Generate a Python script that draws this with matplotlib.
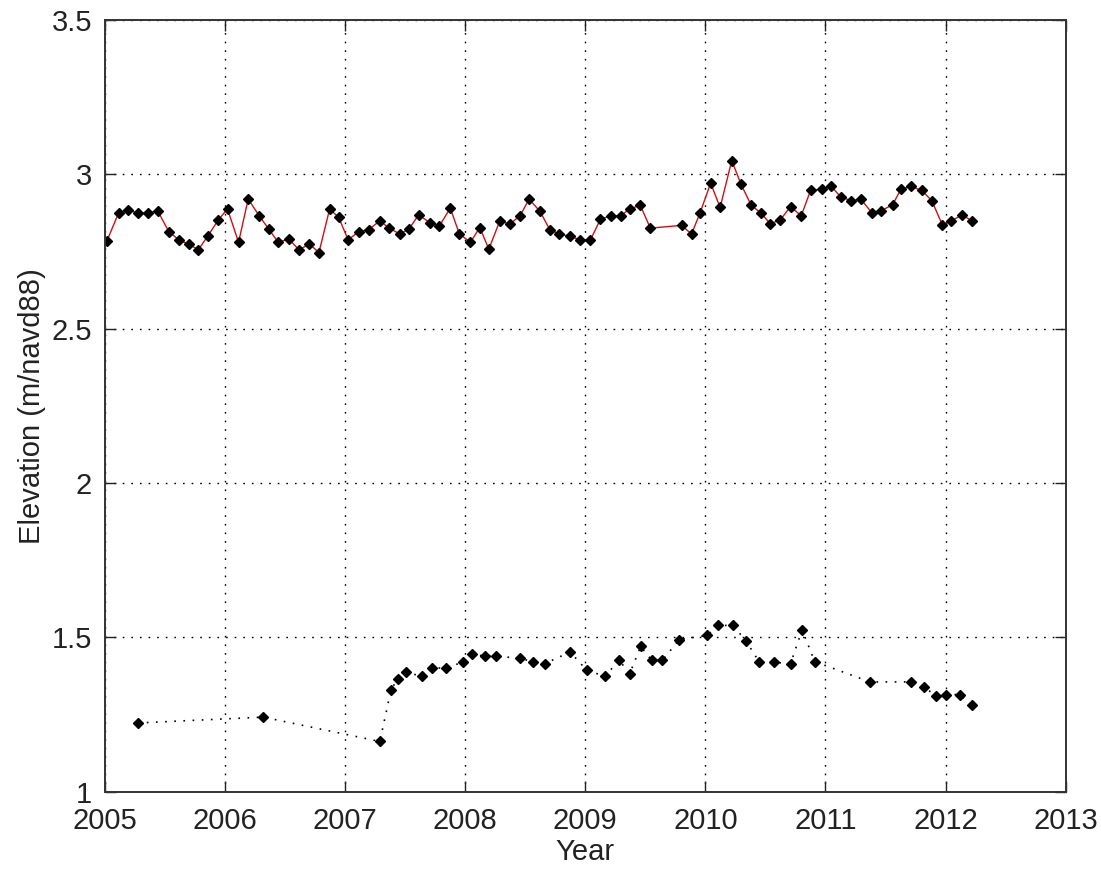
import matplotlib
matplotlib.use("Agg")
import matplotlib.pyplot as plt

plt.rcParams['font.family'] = ['Liberation Sans', 'DejaVu Sans']

# upper series (red line)
top_x = [2005.018, 2005.116, 2005.194, 2005.275, 2005.361, 2005.442, 2005.534,
         2005.618, 2005.701, 2005.780, 2005.860, 2005.947, 2006.023, 2006.115,
         2006.195, 2006.287, 2006.366, 2006.446, 2006.533, 2006.617, 2006.705,
         2006.784, 2006.873, 2006.948, 2007.027, 2007.116, 2007.199, 2007.291,
         2007.367, 2007.459, 2007.534, 2007.613, 2007.710, 2007.785, 2007.877,
         2007.952, 2008.044, 2008.123, 2008.198, 2008.290, 2008.371, 2008.458,
         2008.533, 2008.625, 2008.705, 2008.784, 2008.876, 2008.960, 2009.044,
         2009.127, 2009.211, 2009.294, 2009.370, 2009.459, 2009.542, 2009.802,
         2009.885, 2009.956, 2010.044, 2010.123, 2010.220, 2010.296, 2010.382,
         2010.463, 2010.541, 2010.625, 2010.709, 2010.798, 2010.876, 2010.973,
         2011.049, 2011.127, 2011.216, 2011.295, 2011.387, 2011.462, 2011.559,
         2011.629, 2011.713, 2011.802, 2011.885, 2011.972, 2012.048, 2012.140,
         2012.223]
top_y = [2.783, 2.875, 2.886, 2.875, 2.875, 2.882, 2.815, 2.788, 2.774, 2.756,
         2.801, 2.853, 2.888, 2.780, 2.920, 2.866, 2.823, 2.780, 2.791, 2.756,
         2.774, 2.747, 2.888, 2.861, 2.788, 2.815, 2.821, 2.850, 2.826, 2.807,
         2.823, 2.869, 2.843, 2.832, 2.891, 2.808, 2.780, 2.828, 2.758, 2.850,
         2.839, 2.866, 2.920, 2.880, 2.821, 2.807, 2.799, 2.788, 2.788, 2.855,
         2.866, 2.866, 2.888, 2.900, 2.826, 2.835, 2.807, 2.875, 2.972, 2.893,
         3.045, 2.969, 2.900, 2.875, 2.840, 2.853, 2.896, 2.866, 2.948, 2.953,
         2.961, 2.927, 2.915, 2.920, 2.875, 2.882, 2.902, 2.953, 2.961, 2.948,
         2.915, 2.837, 2.850, 2.869, 2.848]

# lower series (black dotted)
low_x = [2005.275, 2006.321, 2007.291, 2007.383, 2007.439, 2007.506, 2007.639,
         2007.724, 2007.841, 2007.981, 2008.059, 2008.165, 2008.259, 2008.458,
         2008.569, 2008.663, 2008.875, 2009.015, 2009.169, 2009.280, 2009.370,
         2009.462, 2009.554, 2009.643, 2009.782, 2010.017, 2010.109, 2010.228,
         2010.337, 2010.449, 2010.569, 2010.709, 2010.806, 2010.910, 2011.370,
         2011.713, 2011.818, 2011.922, 2012.006, 2012.117, 2012.220]
low_y = [1.223, 1.242, 1.163, 1.329, 1.366, 1.388, 1.374, 1.401, 1.401, 1.420,
         1.447, 1.439, 1.439, 1.433, 1.420, 1.415, 1.453, 1.393, 1.374, 1.428,
         1.382, 1.471, 1.426, 1.426, 1.493, 1.507, 1.539, 1.539, 1.490, 1.420,
         1.420, 1.415, 1.525, 1.422, 1.356, 1.356, 1.341, 1.309, 1.315, 1.315,
         1.282]

xticks = [2005, 2006, 2007, 2008, 2009, 2010, 2011, 2012, 2013]
yticks = [1, 1.5, 2, 2.5, 3, 3.5]
ytick_labels = ['1', '1.5', '2', '2.5', '3', '3.5']


def main():
  fig = plt.figure(figsize=(11.01, 8.73), dpi=100)
  ax = fig.add_axes([0.095, 0.093, 0.873, 0.884])

  ax.plot(top_x, top_y, '-', color='#d01010', linewidth=1.0,
          marker='D', markersize=5.5, markerfacecolor='black',
          markeredgecolor='black')
  ax.plot(low_x, low_y, linestyle=(0, (1, 4.5)), color='black', linewidth=1.2,
          marker='D', markersize=5.5, markerfacecolor='black',
          markeredgecolor='black')

  ax.set_xlim(2005, 2013)
  ax.set_ylim(1, 3.5)
  ax.set_xticks(xticks)
  ax.set_yticks(yticks)
  ax.set_xticklabels([str(t) for t in xticks])
  ax.set_yticklabels(ytick_labels)
  ax.grid(True, linestyle=(0, (1.2, 5)), color='black', linewidth=1.0)
  ax.tick_params(direction='in', top=True, right=True, labelsize=21,
                 length=8, width=1, colors='#222222')
  ax.tick_params(axis='x', pad=11)
  ax.tick_params(axis='y', pad=9)
  for s in ax.spines.values():
    s.set_linewidth(1.4)
    s.set_color('#333333')

  ax.set_xlabel('Year', fontsize=21, labelpad=2, color='#222222')
  ax.set_ylabel('Elevation (m/navd88)', fontsize=21, labelpad=4,
                color='#222222')

  plt.savefig('out.png', dpi=100)

if __name__ == "__main__":
  main()
